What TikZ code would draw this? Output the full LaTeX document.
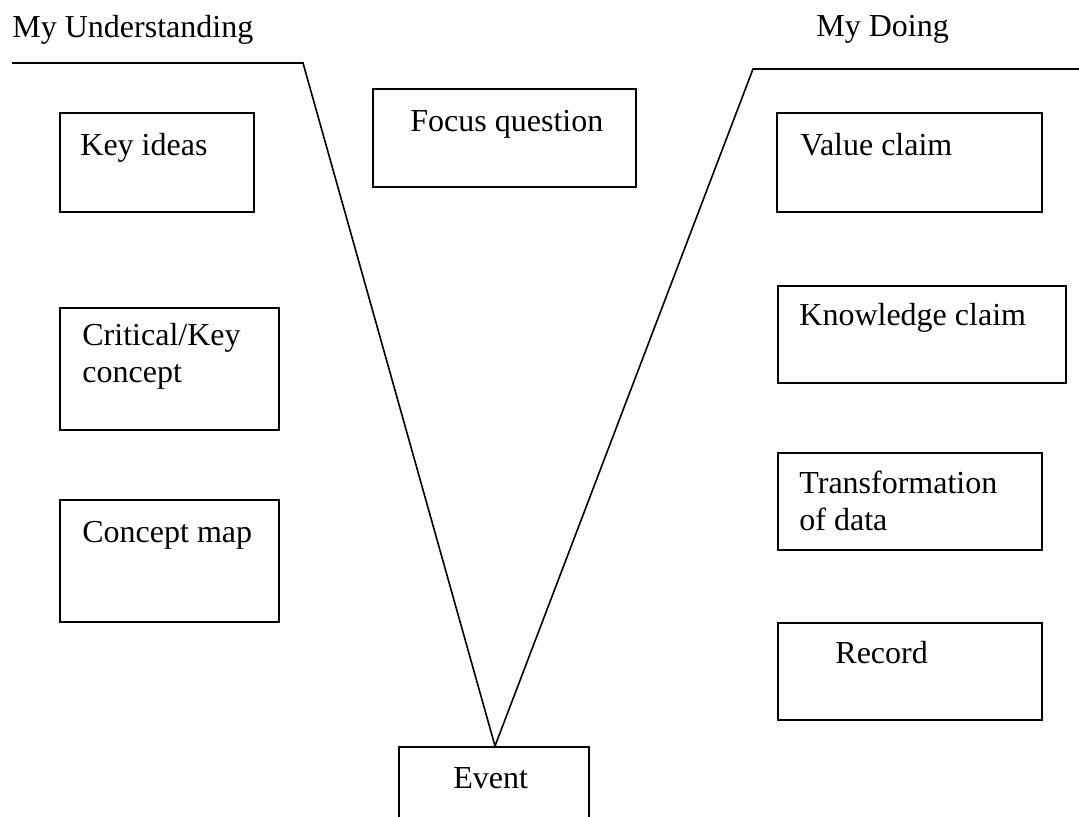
\documentclass[tikz,border=0pt]{standalone}
\usepackage{fontspec}
\setmainfont{Liberation Serif}
\usetikzlibrary{fit}
\begin{document}
\begin{tikzpicture}[x=0.5pt,y=-0.5pt,
  box/.style={draw=black, line width=0.8pt, inner sep=0pt, rectangle},
  lbl/.style={inner sep=0pt, anchor=base west, align=left,
    font=\fontsize{16}{18.5}\selectfont},
  vline/.style={draw=black, line width=0.8pt, line join=miter}]
\useasboundingbox (0,0) rectangle (1079,816);
\clip (0,0) rectangle (1079,816);
% boxes
\node[box, fit={(60,113) (254,212)}] (keyideas) {};
\node[box, fit={(60,308) (279,430)}] (critical) {};
\node[box, fit={(60,500) (279,622)}] (conceptmap) {};
\node[box, fit={(373,89) (636,187)}] (focus) {};
\node[box, fit={(777,113) (1042,212)}] (value) {};
\node[box, fit={(778,286) (1066,383)}] (knowledge) {};
\node[box, fit={(778,453) (1042,550)}] (transform) {};
\node[box, fit={(778,623) (1042,720)}] (record) {};
\node[box, fit={(399,747) (589,840)}] (event) {};
% labels
\node[lbl] (tund) at (12,37) {My Understanding};
\node[lbl] (tdo) at (816,36) {My Doing};
\node[lbl] (tki) at (80,155) {Key ideas};
\node[lbl] (tcr) at (82,382) {Critical/Key\\concept};
\node[lbl] (tcm) at (82,542) {Concept map};
\node[lbl] (tfq) at (410,131) {Focus question};
\node[lbl] (tvc) at (800,155) {Value claim};
\node[lbl] (tkc) at (799,325) {Knowledge claim};
\node[lbl] (ttd) at (799,530) {Transformation\\of data};
\node[lbl] (trc) at (835,663) {Record};
\node[lbl] (tev) at (453,788) {Event};
% the V
\coordinate (lstart) at (12,63);
\coordinate (lcorner) at (303,63);
\coordinate (vertex) at (495,746);
\coordinate (rcorner) at (753,69);
\coordinate (rend) at (1079,69);
\draw[vline] (lstart) -- (lcorner) -- (vertex) -- (rcorner) -- (rend);
\end{tikzpicture}
\end{document}
